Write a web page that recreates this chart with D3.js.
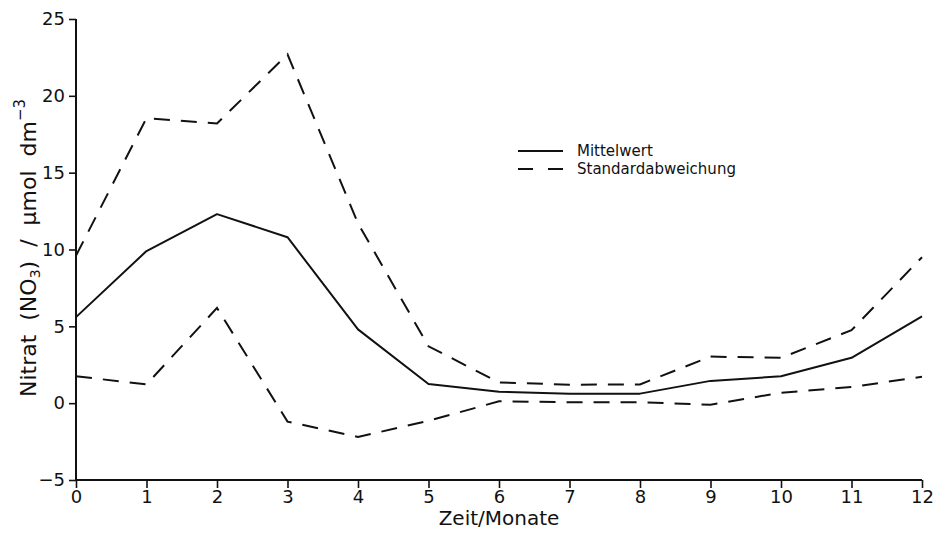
<!DOCTYPE html>
<html>
<head>
<meta charset="utf-8">
<script src="https://cdn.jsdelivr.net/npm/d3@7"></script>
<style>
  html, body { margin: 0; padding: 0; background: #fff; }
  svg { display: block; }
  text { font-family: "DejaVu Sans", sans-serif; fill: #111; }
</style>
</head>
<body>
<svg id="chart"></svg>
<script>
// months 0..12
const months = [0, 1, 2, 3, 4, 5, 6, 7, 8, 9, 10, 11, 12];
const mittelwert = [5.6, 9.9, 12.3, 10.8, 4.8, 1.25, 0.75, 0.62, 0.62, 1.45, 1.75, 2.95, 5.65];
const stdOben = [9.6, 18.55, 18.2, 22.7, 11.7, 3.7, 1.35, 1.2, 1.22, 3.03, 2.95, 4.75, 9.5];
const stdUnten = [1.75, 1.22, 6.2, -1.2, -2.2, -1.15, 0.12, 0.06, 0.06, -0.1, 0.68, 1.05, 1.72];
const yTicks = [-5, 0, 5, 10, 15, 20, 25];
const legendLabels = ['Mittelwert', 'Standardabweichung'];

const W = 937, H = 533;
const ink = '#111';
const dash = '16,11';

const svg = d3.select('#chart').attr('width', W).attr('height', H);

const x = d3.scaleLinear().domain([0, 12]).range([76, 922]);
const y = d3.scaleLinear().domain([-5, 25]).range([480, 19]);

// axes
const xAxis = d3.axisBottom(x).tickValues(months).tickFormat(d3.format('d')).tickSize(8).tickPadding(2);
const yAxis = d3.axisLeft(y).tickValues(yTicks).tickFormat(d => d < 0 ? '\u2212' + Math.abs(d) : d).tickSize(7).tickPadding(4);

const gx = svg.append('g').attr('transform', `translate(0,${y(-5)})`).call(xAxis);
const gy = svg.append('g').attr('transform', `translate(${x(0)},0)`).call(yAxis);

[gx, gy].forEach(g => {
  g.select('.domain').attr('stroke', ink).attr('stroke-width', 2);
  g.selectAll('.tick line').attr('stroke', ink).attr('stroke-width', 1.6);
  g.selectAll('.tick text').attr('font-family', '"DejaVu Sans", sans-serif').attr('font-size', 18).attr('fill', ink);
});
// plain axis lines without end caps
gx.select('.domain').attr('d', `M${x(0)},0H${x(12)}`);
gy.select('.domain').attr('d', `M0,${y(25)}V${y(-5)}`);

// lines
const line = vals => d3.line().x((d, i) => x(months[i])).y(d => y(d))(vals);

svg.append('path').attr('d', line(stdOben)).attr('fill', 'none').attr('stroke', ink)
  .attr('stroke-width', 2).attr('stroke-dasharray', dash);
svg.append('path').attr('d', line(stdUnten)).attr('fill', 'none').attr('stroke', ink)
  .attr('stroke-width', 2).attr('stroke-dasharray', dash);
svg.append('path').attr('d', line(mittelwert)).attr('fill', 'none').attr('stroke', ink)
  .attr('stroke-width', 2).attr('stroke-linejoin', 'round');

// axis titles
svg.append('text')
  .attr('x', x(6)).attr('y', 525)
  .attr('text-anchor', 'middle')
  .attr('font-size', 20)
  .text('Zeit/Monate');

const yt = svg.append('text')
  .attr('transform', 'translate(36,248) rotate(-90)')
  .attr('text-anchor', 'middle')
  .attr('font-size', 22)
  .attr('xml:space', 'preserve');
yt.append('tspan').text('Nitrat  (NO');
yt.append('tspan').attr('font-size', 14).attr('dy', 4).text('3');
yt.append('tspan').attr('dy', -4).text(')  /  \u03bcmol  dm');
yt.append('tspan').attr('font-size', 15).attr('dy', -11).text('\u22123');

// legend
const lg = svg.append('g');
legendLabels.forEach((lab, i) => {
  const ly = 151 + i * 18;
  lg.append('line').attr('x1', 518).attr('x2', 563).attr('y1', ly).attr('y2', ly)
    .attr('stroke', ink).attr('stroke-width', 1.8)
    .attr('stroke-dasharray', i === 1 ? '15,15' : null);
  lg.append('text').attr('x', 577).attr('y', ly + 5).attr('font-size', 15).text(lab);
});
</script>
</body>
</html>
